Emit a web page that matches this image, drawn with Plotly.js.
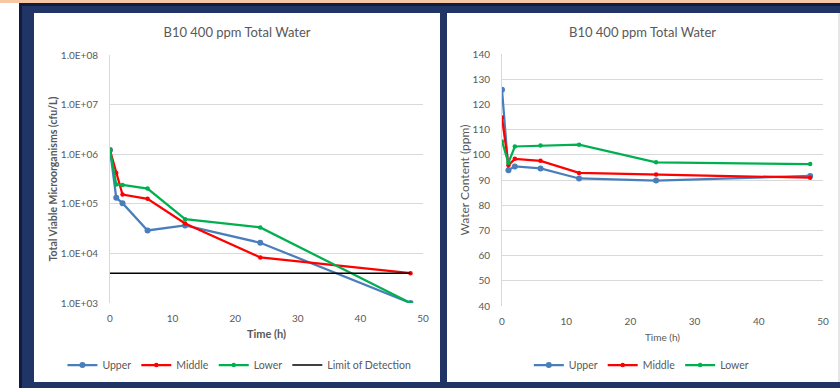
<!DOCTYPE html>
<html>
<head>
<meta charset="utf-8">
<script src="https://cdn.plot.ly/plotly-3.0.1.min.js"></script>
<style>
  html, body { margin:0; padding:0; background:#ffffff; }
  #stage { position:relative; width:840px; height:388px; overflow:hidden; background:#ffffff; }
  .blk { position:absolute; }
</style>
</head>
<body>
<div id="stage">
  <div class="blk" style="left:0;top:0;width:840px;height:3px;background:#f7c7a5;"></div>
  <div class="blk" style="left:19px;top:3px;width:821px;height:385px;background:#203466;"></div>
  <div class="blk" style="left:19px;top:3px;width:821px;height:3px;background:#111b3d;"></div>
  <div class="blk" style="left:19px;top:3px;width:3px;height:385px;background:#111b3d;"></div>
  <div class="blk" style="left:838px;top:13px;width:2px;height:369px;background:#e6e6e6;"></div>
  <div id="chart1" class="blk" style="left:34px;top:13px;width:406px;height:369px;background:#fff;"></div>
  <div id="chart2" class="blk" style="left:447px;top:13px;width:391px;height:369px;background:#fff;"></div>
</div>
<script>
// ---- data ----
const times = [0, 1, 2, 6, 12, 24, 48];
const tvmUpper  = [1.22e6, 1.32e5, 1.03e5, 2.9e4, 3.67e4, 1.64e4, 1.0e3];
const tvmMiddle = [1.2e6, 4.2e5, 1.54e5, 1.26e5, 4.0e4, 8.3e3, 4.0e3];
const tvmLower  = [1.2e6, 2.45e5, 2.4e5, 2.03e5, 4.9e4, 3.34e4, 1.0e3];
const lodTimes  = [0, 48];
const lodValues = [4000, 4000];
const waterUpper  = [125.8, 93.9, 95.4, 94.6, 90.6, 89.8, 91.6];
const waterMiddle = [114.8, 95.9, 98.4, 97.6, 92.8, 92.2, 90.9];
const waterLower  = [105.3, 96.8, 103.3, 103.7, 104.0, 97.0, 96.3];
const logTickVals = [1e3, 1e4, 1e5, 1e6, 1e7, 1e8];
const logTickText = ['1.0E+03', '1.0E+04', '1.0E+05', '1.0E+06', '1.0E+07', '1.0E+08'];
const chartTitle = 'B10 400 ppm Total Water';

// ---- styles ----
const FONT = 'Lato, "Open Sans", "DejaVu Sans", sans-serif';
const GRAY = '#595959';
const GRID = '#d9d9d9';
const cBlue = '#4a7ebb', cRed = '#ff0000', cGreen = '#00b050';

function series(name, x, y, color, msize) {
  return { type:'scatter', mode:'lines+markers', name:name, x:x, y:y,
    line:{color:color, width:2.25}, marker:{color:color, size:msize} };
}

const common = {
  paper_bgcolor:'#ffffff', plot_bgcolor:'#ffffff',
  font:{family:FONT, color:GRAY, size:10},
  showlegend:true
};

const traces1 = [
  series('Upper', times, tvmUpper, cBlue, 6),
  series('Middle', times, tvmMiddle, cRed, 4.5),
  series('Lower', times, tvmLower, cGreen, 4.5),
  { type:'scatter', mode:'lines', name:'Limit of Detection', x:lodTimes, y:lodValues,
    line:{color:'#000000', width:1.5} }
];
const layout1 = Object.assign({}, common, {
  width:406, height:369,
  margin:{l:76, r:17, t:42, b:79, pad:0, autoexpand:false},
  legend:{orientation:'h', xref:'paper', x:-0.152, xanchor:'left',
          yref:'paper', y:-0.25, yanchor:'middle',
          font:{family:FONT, size:10.5, color:GRAY}, itemwidth:30, tracegroupgap:0},
  title:{text:chartTitle, xref:'container', x:0.5, xanchor:'center',
         yref:'container', y:0.948, yanchor:'middle', font:{family:FONT, size:13, color:GRAY}},
  xaxis:{range:[0,50], dtick:10, showgrid:false, zeroline:false, showline:false,
         ticks:'outside', ticklen:6, tickcolor:'rgba(0,0,0,0)',
         tickfont:{size:10, color:GRAY}, automargin:false,
         title:{text:'<b>Time (h)</b>', standoff:7, font:{size:11, color:GRAY}}},
  yaxis:{type:'log', range:[3,8], tickvals:logTickVals, ticktext:logTickText,
         showgrid:true, gridcolor:GRID, gridwidth:1, zeroline:false,
         showline:true, linecolor:GRID, linewidth:1,
         ticks:'outside', ticklen:9, tickcolor:'rgba(0,0,0,0)',
         tickfont:{size:10, color:GRAY}, automargin:false,
         title:{text:'<b>Total Viable Microorganisms (cfu/L)</b>', standoff:1, font:{size:10.5, color:GRAY}}}
});

const traces2 = [
  series('Upper', times, waterUpper, cBlue, 6),
  series('Middle', times, waterMiddle, cRed, 4.5),
  series('Lower', times, waterLower, cGreen, 4.5)
];
const layout2 = Object.assign({}, common, {
  width:391, height:369,
  margin:{l:55, r:15, t:41, b:76, pad:0, autoexpand:false},
  legend:{orientation:'h', xref:'container', x:0.497, xanchor:'center',
          yref:'container', y:0.046, yanchor:'middle',
          font:{family:FONT, size:10.5, color:GRAY}, itemwidth:30, tracegroupgap:0},
  title:{text:chartTitle, xref:'container', x:0.5, xanchor:'center',
         yref:'container', y:0.948, yanchor:'middle', font:{family:FONT, size:13, color:GRAY}},
  xaxis:{range:[0,50], dtick:10, showgrid:false, zeroline:false, showline:false,
         ticks:'outside', ticklen:6, tickcolor:'rgba(0,0,0,0)',
         tickfont:{size:10, color:GRAY}, automargin:false,
         title:{text:'Time (h)', standoff:7, font:{size:10, color:GRAY}}},
  yaxis:{range:[40,140], dtick:10, showgrid:true, gridcolor:GRID, gridwidth:1, zeroline:false,
         showline:true, linecolor:GRID, linewidth:1,
         ticks:'outside', ticklen:9, tickcolor:'rgba(0,0,0,0)',
         tickfont:{size:10, color:GRAY}, automargin:false,
         title:{text:'Water Content (ppm)', standoff:0, font:{size:12, color:GRAY}}}
});

const cfg = {staticPlot:true, displayModeBar:false};
Plotly.newPlot('chart1', traces1, layout1, cfg);
Plotly.newPlot('chart2', traces2, layout2, cfg);
</script>
</body>
</html>
